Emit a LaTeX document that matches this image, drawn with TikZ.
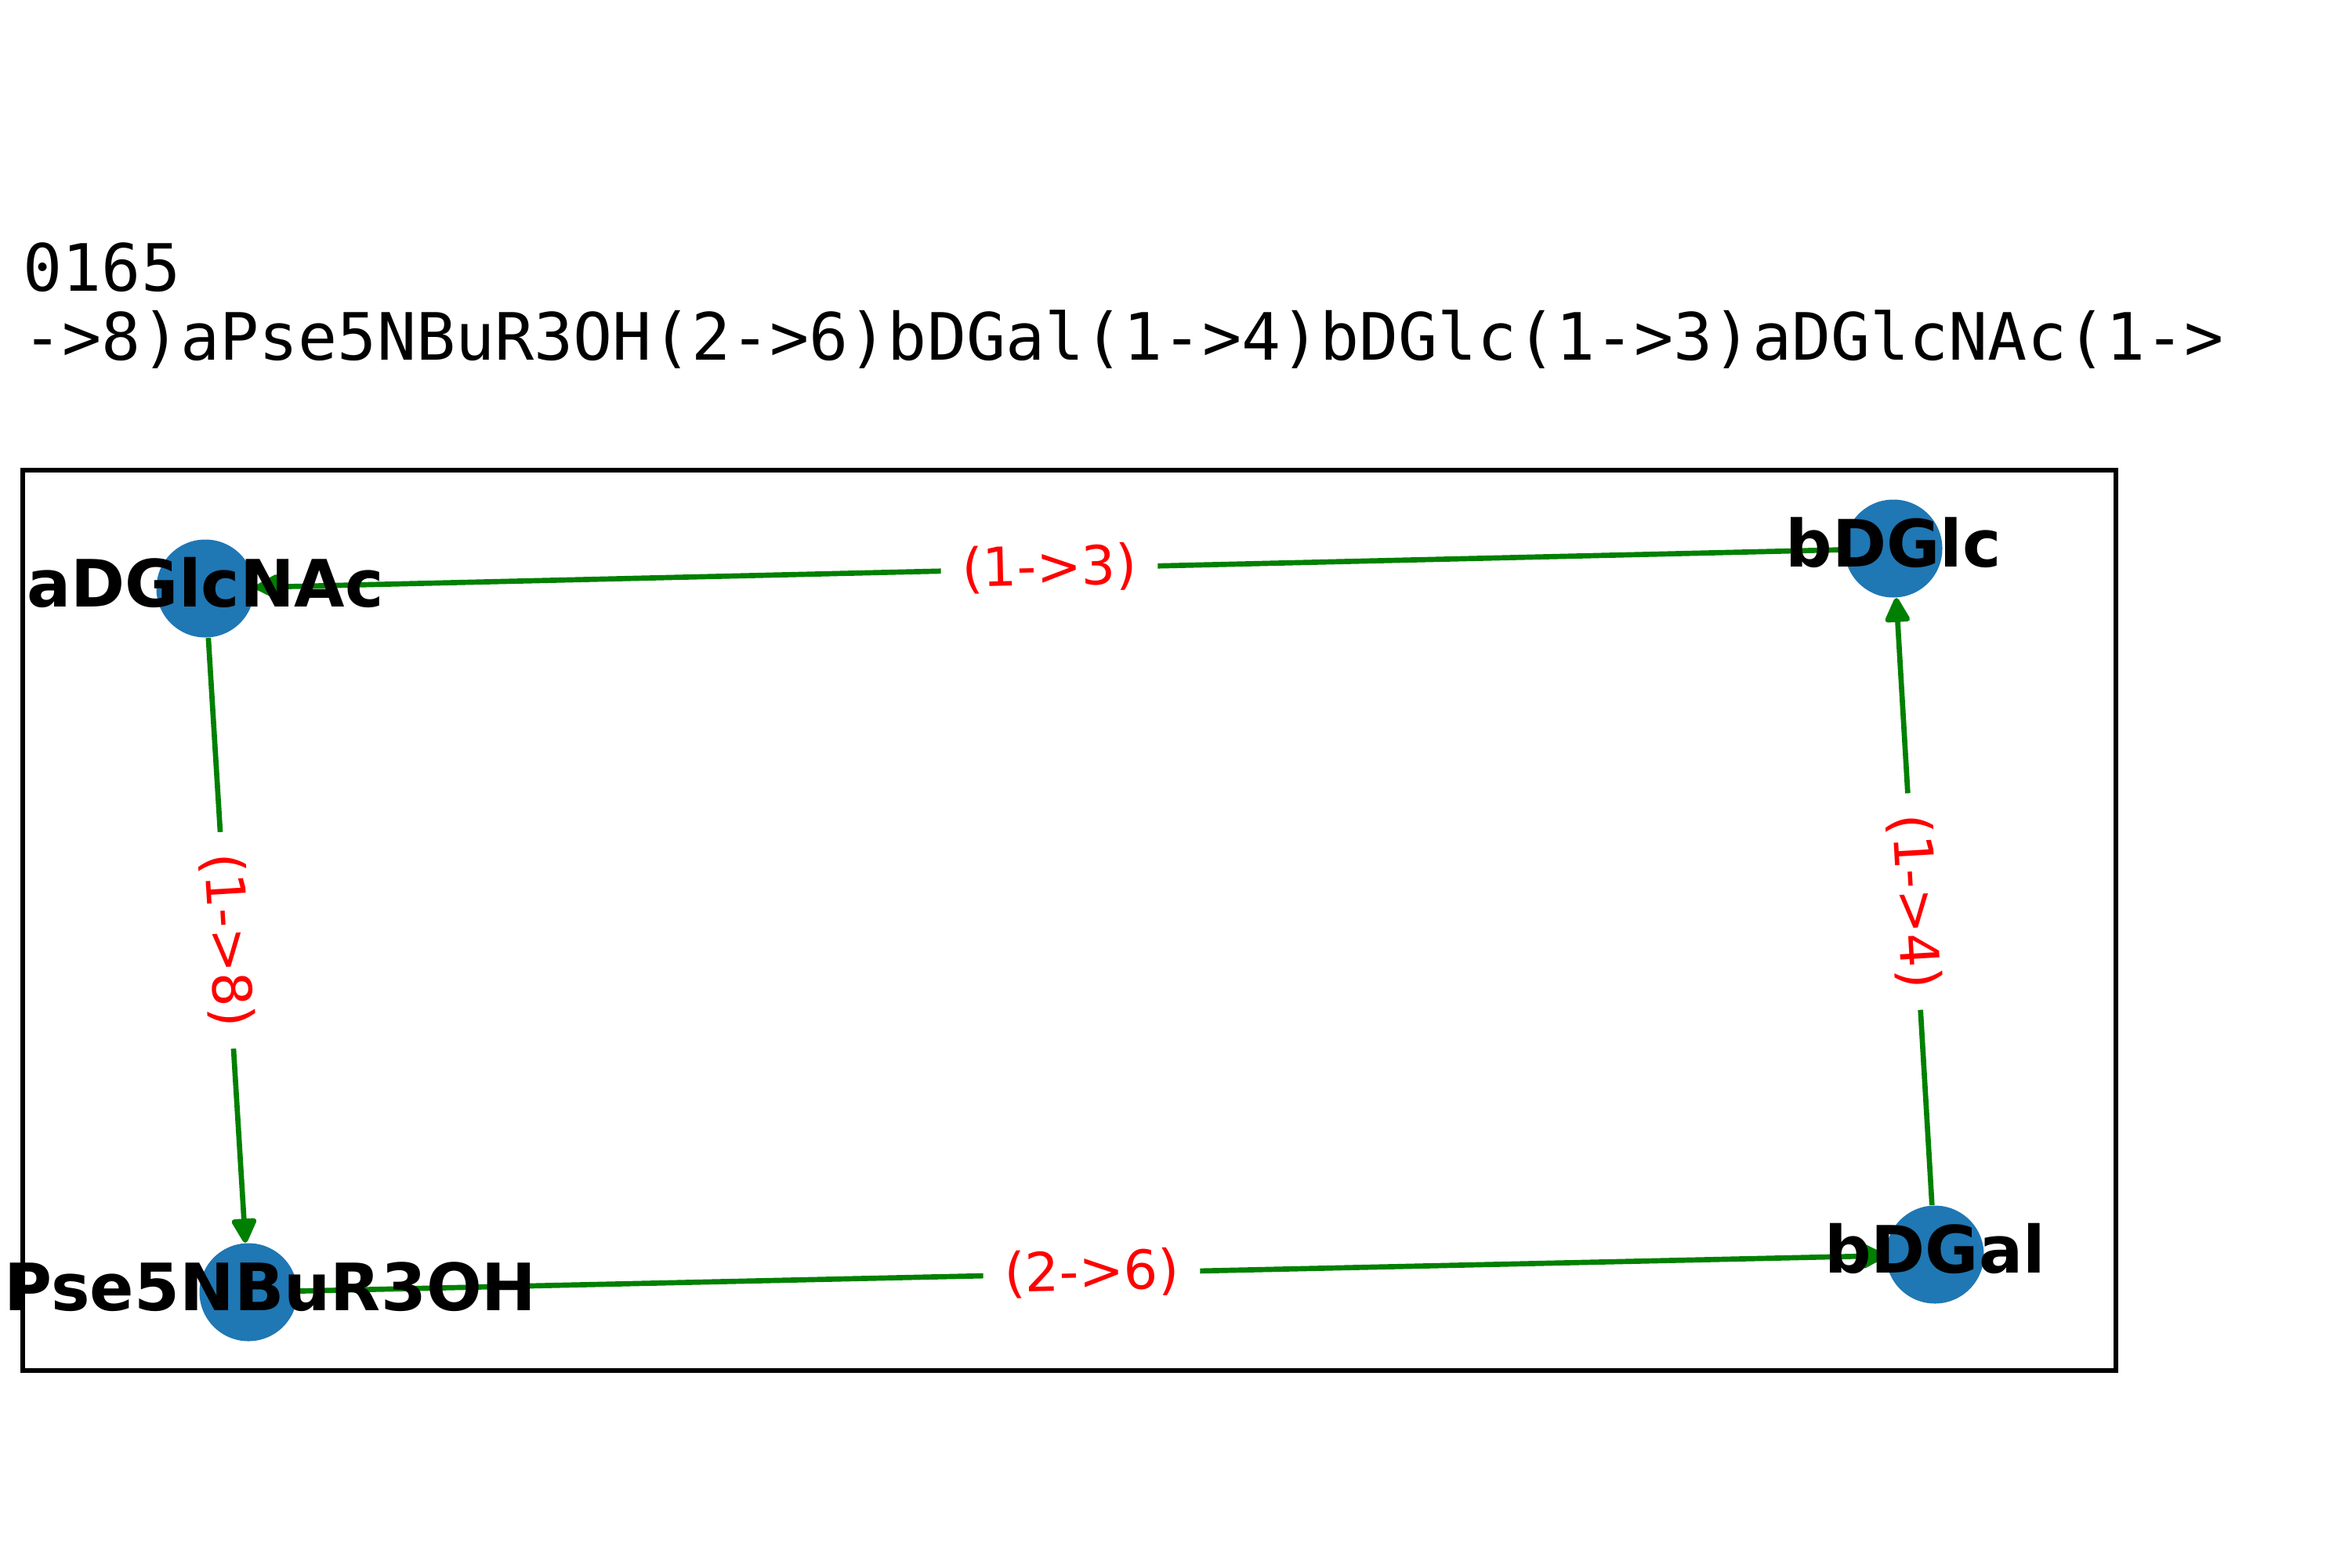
\documentclass[tikz,border=0pt]{standalone}
\usepackage{fontspec}
\setmainfont{DejaVu Sans}
\newfontfamily\titlemono{DejaVu Sans Mono}
\usetikzlibrary{arrows.meta}
\definecolor{nodeblue}{HTML}{1F77B4}
\definecolor{edgegreen}{HTML}{008000}
\definecolor{labelred}{HTML}{FF0000}
\begin{document}
\begin{tikzpicture}[
  sugar/.style={circle, fill=nodeblue, draw=none, minimum size=1.25cm, inner sep=0pt},
  sugartext/.style={anchor=base, inner sep=0pt, font=\bfseries\fontsize{23.7}{28}\selectfont, text=black},
  link/.style={draw=edgegreen, line width=1.9pt, -{Triangle[length=0.35cm, width=0.34cm, round]}},
  linklabel/.style={fill=white, text=labelred, font=\fontsize{19.5}{23}\selectfont, inner xsep=0.27cm, inner ysep=0.12cm},
  titletext/.style={anchor=base west, inner sep=0pt, font=\titlemono\fontsize{23.7}{28}\selectfont},
  framebox/.style={draw=black, line width=1.55pt}
]
\useasboundingbox (0,0) rectangle (30,-20);
\fill[white] (0,0) rectangle (30,-20);
\node[titletext] (t1) at (0.29,-3.71) {0165};
\node[titletext] (t2) at (0.29,-4.59) {->8)aPse5NBuR3OH(2->6)bDGal(1->4)bDGlc(1->3)aDGlcNAc(1->};
\draw[framebox] (0.29,-6.00) rectangle (27.00,-17.49);
\node[sugar] (glcnac) at (2.62,-7.51) {};
\node[sugar] (glc) at (24.16,-7.00) {};
\node[sugar] (pse) at (3.17,-16.49) {};
\node[sugar] (gal) at (24.69,-16.01) {};
\draw[link] (glc) -- (glcnac) node[midway, sloped, linklabel] (l13) {(1->3)};
\draw[link] (glcnac) -- (pse) node[midway, sloped, linklabel] (l18) {(1->8)};
\draw[link] (gal) -- (glc) node[midway, sloped, linklabel] (l14) {(1->4)};
\draw[link] (pse) -- (gal) node[midway, sloped, linklabel] (l26) {(2->6)};
\node[sugartext] (glcnac-t) at ([yshift=-0.235cm]glcnac.center) {aDGlcNAc};
\node[sugartext] (glc-t) at ([yshift=-0.235cm]glc.center) {bDGlc};
\node[sugartext] (pse-t) at ([yshift=-0.235cm]pse.center) {aPse5NBuR3OH};
\node[sugartext] (gal-t) at ([yshift=-0.235cm]gal.center) {bDGal};
\end{tikzpicture}
\end{document}
